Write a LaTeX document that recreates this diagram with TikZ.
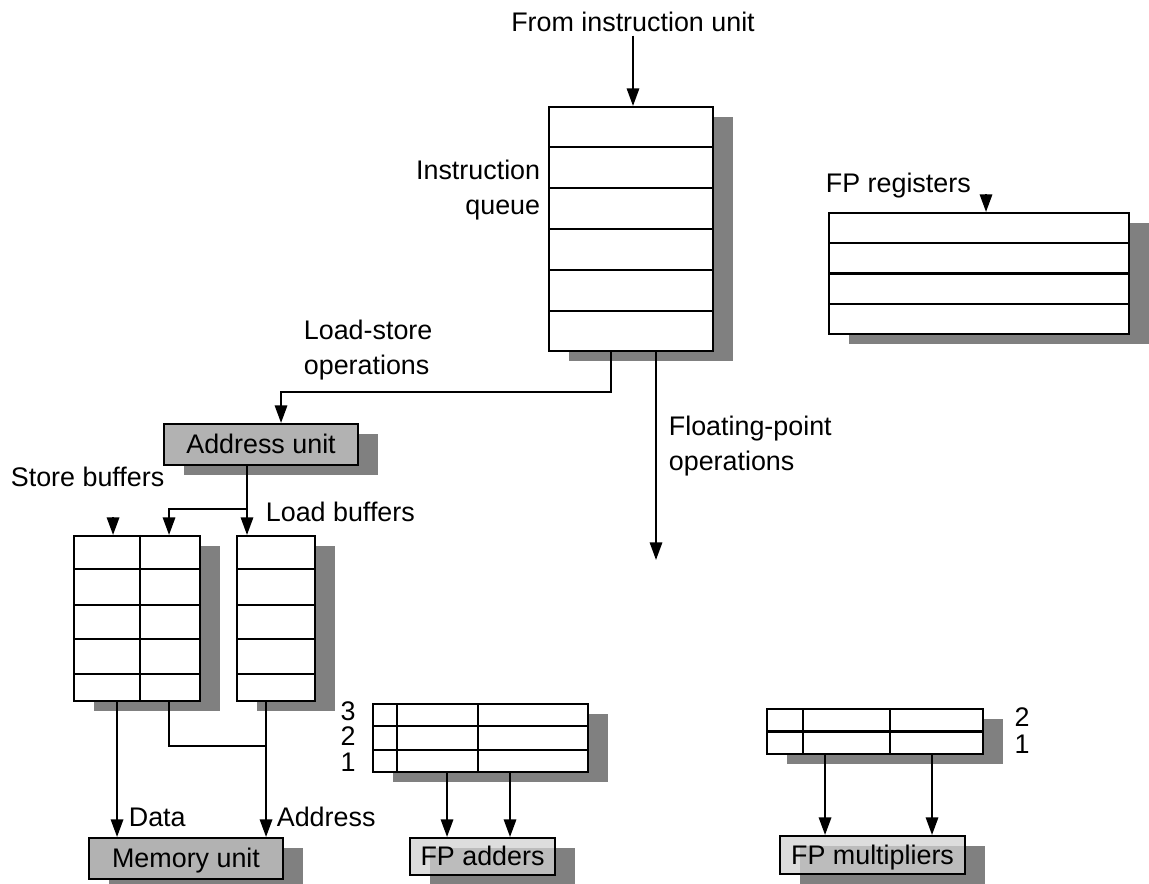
\documentclass[tikz,border=0pt]{standalone}
\usepackage{fontspec}
\setmainfont{Liberation Sans}
\usetikzlibrary{arrows.meta}
\usetikzlibrary{shadows}
\usetikzlibrary{calc}

\begin{document}
\begin{tikzpicture}[
    x=0.02cm, y=-0.02cm,
    every node/.style={font=\fontsize{15.3}{19.8}\selectfont, inner sep=2pt},
    shadowed/.style={drop shadow={shadow xshift=0.4cm, shadow yshift=-0.2cm, fill=black!50, opacity=1}},
    regfile/.style={draw, line width=1.2pt, fill=white, inner sep=0pt, anchor=north west, shadowed},
    unit/.style={draw, line width=1.2pt, fill=black!30, inner sep=0pt, text depth=0.5pt, anchor=north west, shadowed},
    fpunit/.style={draw, line width=1.2pt, fill=black!18, fill opacity=0.75, text opacity=1, inner sep=0pt, text depth=0.5pt, anchor=north west, shadowed},
    arr/.style={-{Triangle[length=10pt,width=7pt]}, line width=1.2pt},
    wire/.style={line width=1.2pt},
]
\useasboundingbox (0,0) rectangle (1149,884);
% === Instruction queue and FP registers ===
\node[regfile, minimum width=3.28cm, minimum height=4.88cm] (iq) at (548,106) {};
\foreach \i in {1,...,5}
    \draw[wire] ($(iq.north west)!\i/6!(iq.south west)$) -- ($(iq.north east)!\i/6!(iq.south east)$);
\node[regfile, minimum width=6cm, minimum height=2.42cm] (fpr) at (828,212) {};
\foreach \i in {1,...,3}
    \draw[wire] ($(fpr.north west)!\i/4!(fpr.south west)$) -- ($(fpr.north east)!\i/4!(fpr.south east)$);
\node (src) at (633,22) {From instruction unit};
\node[align=right, anchor=east] (iqlbl) at (544,190) {Instruction\\queue};
\node[anchor=west] (fprlbl) at (822,186) {FP registers};
% === Load-store side ===
\node[unit, minimum width=3.88cm, minimum height=0.82cm] (au) at (163,423) {Address unit};
\node[regfile, minimum width=2.52cm, minimum height=3.3cm] (sb) at (73,535) {};
\node[regfile, minimum width=1.56cm, minimum height=3.3cm] (lb) at (236,535) {};
\foreach \f in {0.206,0.418,0.624,0.83} {
    \draw[wire] ($(sb.north west)!\f!(sb.south west)$) -- ($(sb.north east)!\f!(sb.south east)$);
    \draw[wire] ($(lb.north west)!\f!(lb.south west)$) -- ($(lb.north east)!\f!(lb.south east)$);
}
\draw[wire] ($(sb.north west)!0.52!(sb.north east)$) -- ($(sb.south west)!0.52!(sb.south east)$);
\node[unit, minimum width=3.88cm, minimum height=0.82cm] (mu) at (88,837) {Memory unit};
\node[align=left, anchor=west] (lslbl) at (300,350) {Load-store\\operations};
\node[anchor=west] (sblbl) at (7,477) {Store buffers};
\node[anchor=west] (lblbl) at (262,512) {Load buffers};
\node[anchor=west] (datalbl) at (125,817) {Data};
\node[anchor=west] (addrlbl) at (273,817) {Address};
% === Floating-point side ===
\node[regfile, minimum width=4.3cm, minimum height=1.36cm] (fa) at (372,703) {};
\foreach \i in {1,2}
    \draw[wire] ($(fa.north west)!\i/3!(fa.south west)$) -- ($(fa.north east)!\i/3!(fa.south east)$);
\foreach \f in {0.116,0.488}
    \draw[wire] ($(fa.north west)!\f!(fa.north east)$) -- ($(fa.south west)!\f!(fa.south east)$);
\node[fpunit, minimum width=2.9cm, minimum height=0.74cm] (fpa) at (409,837) {FP adders};
\node[regfile, minimum width=4.32cm, minimum height=0.9cm] (fm) at (766,708) {};
\draw[wire] (fm.west) -- (fm.east);
\foreach \f in {0.171,0.569}
    \draw[wire] ($(fm.north west)!\f!(fm.north east)$) -- ($(fm.south west)!\f!(fm.south east)$);
\node[fpunit, minimum width=3.7cm, minimum height=0.76cm] (fpm) at (779,835) {FP multipliers};
\foreach \n/\y in {3/711,2/736,1/762}
    \node (fa\n) at (348,\y) {\n};
\foreach \n/\y in {2/717,1/744}
    \node (fm\n) at (1022,\y) {\n};
\node[align=left, anchor=west] (fplbl) at (665,446) {Floating-point\\operations};
% === Connections ===
\draw[arr] (src) -- (iq.north -| src);
\draw[arr] ([xshift=0.14cm,yshift=10pt]fpr.north) -- ([xshift=0.14cm]fpr.north);
% load-store operations to address unit
\coordinate (lsturn) at (611,392);
\draw[arr] (iq.south -| lsturn) -- (lsturn) -| ([xshift=0.4cm]au.north);
% floating-point operations
\coordinate (fpend) at (656,560);
\draw[arr] (iq.south -| fpend) -- (fpend);
% address unit to buffers
\coordinate (split) at (247,509);
\draw[wire] (au.south -| split) -- (split);
\draw[arr] (split) -| ([xshift=0.64cm]sb.north);
\draw[arr] (split) -- (lb.north -| split);
\draw[arr] ([xshift=-0.48cm,yshift=10pt]sb.north) -- ([xshift=-0.48cm]sb.north);
% buffers to memory unit
\coordinate (dat) at ([xshift=-0.4cm]sb.south);
\coordinate (adr) at ([xshift=-0.2cm]lb.south);
\coordinate (sbout) at ([xshift=0.64cm]sb.south);
\coordinate (join) at (265,746);
\draw[arr] (dat) -- (dat |- mu.north);
\draw[arr] (adr) -- (adr |- mu.north);
\draw[wire] (sbout) |- (join);
% reservation stations to FP units
\foreach \dx in {-0.67cm,0.59cm} {
    \coordinate (out) at ([xshift=\dx]fa.south);
    \draw[arr] (out) -- (out |- fpa.north);
}
\foreach \dx in {-1cm,1.14cm} {
    \coordinate (out) at ([xshift=\dx]fm.south);
    \draw[arr] (out) -- (out |- fpm.north);
}
\end{tikzpicture}
\end{document}
